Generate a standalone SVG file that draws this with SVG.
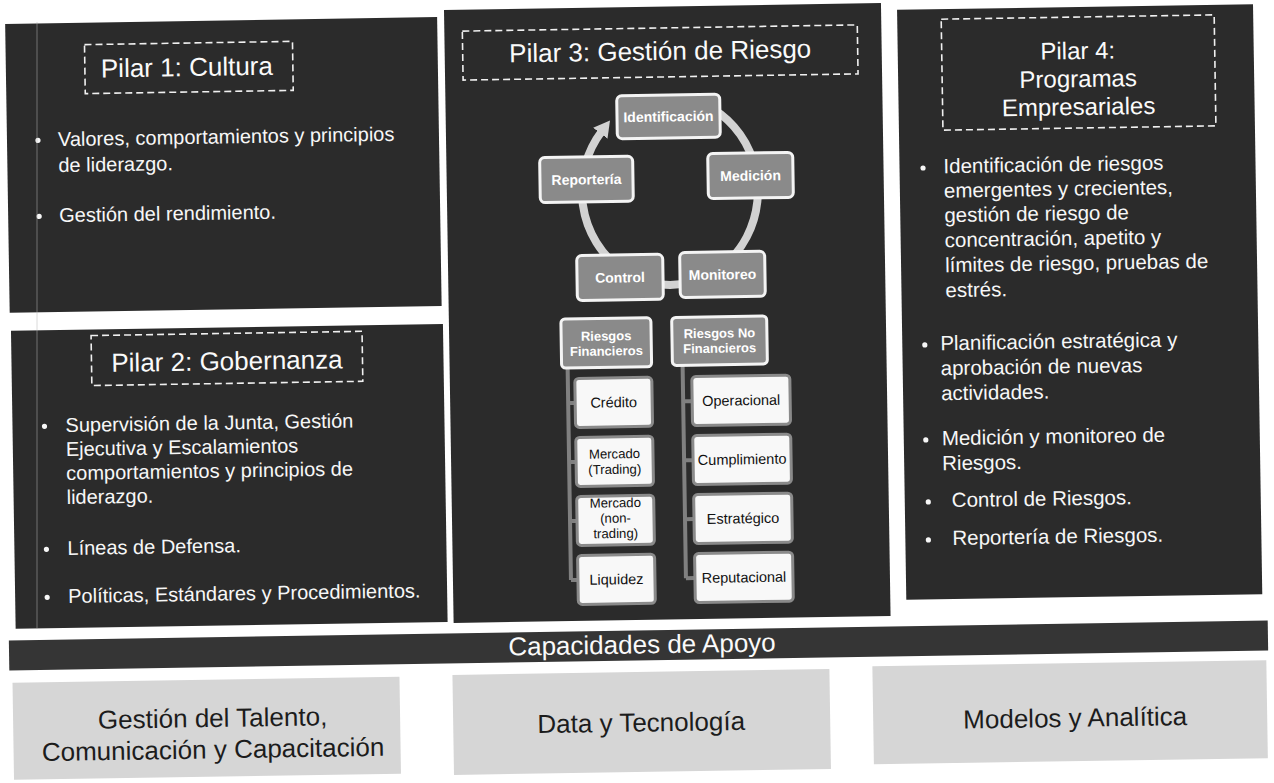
<svg xmlns="http://www.w3.org/2000/svg" width="1274" height="783" viewBox="0 0 1274 783">
<defs>
<style>
.panel{fill:#2b2b2b}
.t{font-family:"Liberation Sans",Arial,sans-serif}
.title{font-family:"Liberation Sans",Arial,sans-serif;font-size:26px;fill:#fafafa;text-anchor:middle}
.title4{font-family:"Liberation Sans",Arial,sans-serif;font-size:24px;fill:#fafafa;text-anchor:middle}
.dash{fill:none;stroke:#f0f0f0;stroke-width:1.6;stroke-dasharray:7 4}
.bul{font-family:"Liberation Sans",Arial,sans-serif;font-size:20px;fill:#f7f7f7}
.bul4{font-family:"Liberation Sans",Arial,sans-serif;font-size:20.5px;fill:#f7f7f7}
.dot{fill:#f7f7f7}
.cyc rect{fill:#8a8a8a;stroke:#f4f4f4;stroke-width:3}
.cyc text{font-family:"Liberation Sans",Arial,sans-serif;font-size:14px;font-weight:bold;fill:#fff;text-anchor:middle}
.hdr rect{fill:#8a8a8a;stroke:#f4f4f4;stroke-width:3}
.hdr text{font-family:"Liberation Sans",Arial,sans-serif;font-size:13px;font-weight:bold;fill:#fff;text-anchor:middle}
.leaf rect{fill:#f8f8f8;stroke:#8a8a8a;stroke-width:3}
.leaf text{font-family:"Liberation Sans",Arial,sans-serif;font-size:14.5px;fill:#111;text-anchor:middle}
.leaf text.sm{font-size:13.2px}
.ring{fill:none;stroke:#d2d2d2;stroke-width:8}
.tree{fill:none;stroke:#808080;stroke-width:4}
.cap rect{fill:#d6d6d6}
.cap text{font-family:"Liberation Sans",Arial,sans-serif;font-size:26px;fill:#1c1c1c;text-anchor:middle}
</style>
<marker id="arr" markerUnits="userSpaceOnUse" viewBox="0 0 16 18" refX="2" refY="9" markerWidth="16" markerHeight="18" orient="auto">
<path d="M0,0 L16,9 L0,18 z" fill="#d2d2d2"/>
</marker>
</defs>
<rect width="1274" height="783" fill="#ffffff"/>
<g transform="rotate(-0.9 637 391)">
  <g id="pilar1">
    <rect class="panel" x="11" y="14" width="432" height="289"/>
    <rect class="dash" x="90" y="36" width="208" height="49"/>
    <text class="title" x="192" y="69">Pilar 1: Cultura</text>
    <circle class="dot" cx="42" cy="131" r="2.6"/>
    <text class="bul" x="62" y="137">Valores, comportamientos y principios</text>
    <text class="bul" x="62" y="163">de liderazgo.</text>
    <circle class="dot" cx="42" cy="207" r="2.6"/>
    <text class="bul" x="62" y="213">Gestión del rendimiento.</text>
  </g>
  <g id="pilar2">
    <rect class="panel" x="12" y="321" width="432" height="298"/>
    <rect class="dash" x="92" y="327" width="271" height="50"/>
    <text class="title" x="227.5" y="363.6">Pilar 2: Gobernanza</text>
    <circle class="dot" cx="44" cy="417" r="2.6"/>
    <text class="bul" x="65" y="423">Supervisión de la Junta, Gestión</text>
    <text class="bul" x="65" y="447">Ejecutiva y Escalamientos</text>
    <text class="bul" x="65" y="471">comportamientos y principios de</text>
    <text class="bul" x="65" y="495">liderazgo.</text>
    <circle class="dot" cx="44" cy="540" r="2.6"/>
    <text class="bul" x="65" y="546">Líneas de Defensa.</text>
    <circle class="dot" cx="44" cy="588" r="2.6"/>
    <text class="bul" x="65" y="594">Políticas, Estándares y Procedimientos.</text>
  </g>
  <g id="pilar3">
    <rect class="panel" x="450" y="7" width="437" height="613"/>
    <rect class="dash" x="468" y="28.4" width="395" height="49"/>
    <text class="title" x="665.5" y="60.4">Pilar 3: Gestión de Riesgo</text>
  </g>
  <g id="connectors">
    <path class="ring" d="M 710.2 106.3 A 88 94 0 1 1 605.6 131.1" marker-end="url(#arr)"/>
    <path class="tree" d="M568 367 V579 M568 402 H575 M568 461 H575 M568 520 H575 M568 579 H575"/>
    <path class="tree" d="M683 366 V579 M683 402 H692 M683 461 H692 M683 520 H692 M683 579 H692"/>
  </g>
  <g id="identificacion" class="cyc">
    <rect x="621.3" y="95.5" width="103" height="43" rx="5"/>
    <text x="672.8" y="122">Identificación</text>
  </g>
  <g id="medicion" class="cyc">
    <rect x="711.4" y="154.8" width="85" height="45" rx="5"/>
    <text x="753.9" y="182.3">Medición</text>
  </g>
  <g id="monitoreo" class="cyc">
    <rect x="681.8" y="253.3" width="85" height="45" rx="5"/>
    <text x="724.3" y="280.8">Monitoreo</text>
  </g>
  <g id="control" class="cyc">
    <rect x="578.8" y="254.7" width="86" height="45" rx="5"/>
    <text x="621.8" y="282.2">Control</text>
  </g>
  <g id="reporteria" class="cyc">
    <rect x="543.3" y="156.2" width="93" height="45" rx="5"/>
    <text x="589.8" y="183.7">Reportería</text>
  </g>
  <g id="riesgos-financieros" class="hdr">
    <rect x="562" y="318" width="90" height="49" rx="4"/>
    <text x="607" y="340">Riesgos</text>
    <text x="607" y="355">Financieros</text>
  </g>
  <g id="riesgos-no-financieros" class="hdr">
    <rect x="672.8" y="318" width="95" height="48" rx="4"/>
    <text x="720.3" y="339">Riesgos No</text>
    <text x="720.3" y="354">Financieros</text>
  </g>
  <g id="credito" class="leaf">
    <rect x="575" y="377.5" width="77" height="49" rx="4"/>
    <text x="613.5" y="407">Crédito</text>
  </g>
  <g id="mercado-trading" class="leaf">
    <rect x="575" y="436.5" width="77" height="49" rx="4"/>
    <text class="sm" x="613.5" y="458">Mercado</text>
    <text class="sm" x="613.5" y="473.5">(Trading)</text>
  </g>
  <g id="mercado-non-trading" class="leaf">
    <rect x="575" y="495.5" width="77" height="49" rx="4"/>
    <text class="sm" x="613.5" y="507">Mercado</text>
    <text class="sm" x="613.5" y="522.3">(non-</text>
    <text class="sm" x="613.5" y="537.6">trading)</text>
  </g>
  <g id="liquidez" class="leaf">
    <rect x="575" y="554.5" width="77" height="49" rx="4"/>
    <text x="613.5" y="584">Liquidez</text>
  </g>
  <g id="operacional" class="leaf">
    <rect x="692" y="377.5" width="98" height="49" rx="4"/>
    <text x="741" y="407">Operacional</text>
  </g>
  <g id="cumplimiento" class="leaf">
    <rect x="692" y="436.5" width="98" height="49" rx="4"/>
    <text x="741" y="466">Cumplimiento</text>
  </g>
  <g id="estrategico" class="leaf">
    <rect x="692" y="495.5" width="98" height="49" rx="4"/>
    <text x="741" y="525">Estratégico</text>
  </g>
  <g id="reputacional" class="leaf">
    <rect x="692" y="554.5" width="98" height="49" rx="4"/>
    <text x="741" y="584">Reputacional</text>
  </g>
  <g id="pilar4">
    <rect class="panel" x="903" y="14" width="356" height="590"/>
    <rect class="dash" x="947" y="24" width="273" height="111"/>
    <text class="title4" x="1083" y="66">Pilar 4:</text>
    <text class="title4" x="1083" y="94">Programas</text>
    <text class="title4" x="1083" y="122">Empresariales</text>
    <circle class="dot" cx="926.5" cy="172.5" r="2.6"/>
    <text class="bul4" x="947" y="178">Identificación de riesgos</text>
    <text class="bul4" x="947" y="202.5">emergentes y crecientes,</text>
    <text class="bul4" x="947" y="227">gestión de riesgo de</text>
    <text class="bul4" x="947" y="252">concentración, apetito y</text>
    <text class="bul4" x="947" y="277">límites de riesgo, pruebas de</text>
    <text class="bul4" x="947" y="302">estrés.</text>
    <circle class="dot" cx="925.5" cy="349.5" r="2.6"/>
    <text class="bul4" x="941" y="355">Planificación estratégica y</text>
    <text class="bul4" x="941" y="380">aprobación de nuevas</text>
    <text class="bul4" x="941" y="405">actividades.</text>
    <circle class="dot" cx="925" cy="444.5" r="2.6"/>
    <text class="bul4" x="941" y="450">Medición y monitoreo de</text>
    <text class="bul4" x="941" y="475">Riesgos.</text>
    <circle class="dot" cx="926.5" cy="506.5" r="2.6"/>
    <text class="bul4" x="950" y="512">Control de Riesgos.</text>
    <circle class="dot" cx="926" cy="544.5" r="2.6"/>
    <text class="bul4" x="950" y="550">Reportería de Riesgos.</text>
  </g>
  <g id="capacidades">
    <rect x="5" y="630.5" width="1259" height="30" fill="#353535"/>
    <text class="t" x="638" y="653.5" font-size="26" fill="#fafafa" text-anchor="middle">Capacidades de Apoyo</text>
  </g>
  <g id="talento" class="cap">
    <rect x="8" y="673" width="387" height="97"/>
    <text x="207.5" y="720.3">Gestión del Talento,</text>
    <text x="207.5" y="751.7">Comunicación y Capacitación</text>
  </g>
  <g id="data" class="cap">
    <rect x="448" y="672" width="377" height="100"/>
    <text x="636" y="731.5">Data y Tecnología</text>
  </g>
  <g id="modelos" class="cap">
    <rect x="868" y="670" width="394" height="98"/>
    <text x="1070" y="733.6">Modelos y Analítica</text>
  </g>
</g>
<line x1="37" y1="22" x2="37" y2="628" stroke="#b8b8b8" stroke-width="1" opacity="0.5"/>
</svg>
